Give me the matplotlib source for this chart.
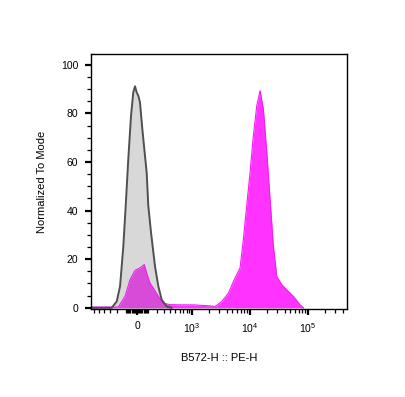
import numpy as np
import matplotlib.pyplot as plt
from matplotlib.ticker import FixedLocator, NullFormatter

plt.rcParams['font.family'] = ['Liberation Sans', 'DejaVu Sans']
plt.rcParams['mathtext.fontset'] = 'custom'
plt.rcParams['mathtext.rm'] = 'Liberation Sans'

# biexponential-like display (asinh)
C = 229.0

def fwd(x):
    return np.arcsinh(np.asarray(x, dtype=float) / C)

def inv(y):
    return C * np.sinh(np.asarray(y, dtype=float))

# unstained control (gray)
gray_x = [-650, -270, -205, -166, -131, -106, -81, -55, -34, -18, -3, 12, 27, 49, 74, 90,
          106, 134, 178, 218, 262, 338, 420]
gray_y = [0, 0, 2.6, 8.8, 25, 42, 61, 79, 88.7, 91.2, 88.7, 87.3, 84.6, 73.5, 62.5, 55.7,
          42, 31, 17, 8.8, 3.3, 0.5, 0]

# stained sample (magenta)
pe_x = [-650, -186, -113, -64, -18, 27, 67, 90, 123, 159, 218, 285, 394, 610, 1045, 2070,
        2525, 3300, 4290, 5590, 6820, 7770, 8880, 10140, 11560, 13240, 15090, 17200, 19680,
        22440, 25580, 29270, 35720, 43500, 56600, 73800, 84000]
pe_y = [0.3, 0.3, 4.7, 11.6, 15.4, 16.4, 17.8, 14.3, 10.2, 8.1, 4.7, 1.9, 1.3, 1.2, 1.2, 0.8,
        0.5, 2.6, 6, 12.3, 16.4, 28, 42, 55.7, 70.8, 83.2, 89.4, 81.8, 64,
        44.6, 25.3, 12.9, 9.5, 7.4, 4.7, 1.2, 0]

x_major = [0, 1e3, 1e4, 1e5]
x_labels = ['0', '10$^{3}$', '10$^{4}$', '10$^{5}$']
y_major = [0, 20, 40, 60, 80, 100]

fig = plt.figure(figsize=(4.06, 3.97), dpi=100)
ax = fig.add_axes([0.2241, 0.2217, 0.6305, 0.6423])
ax.set_xscale('function', functions=(fwd, inv))

ax.fill_between(pe_x, pe_y, 0, color='#ff33ff', lw=0)
ax.plot(pe_x, pe_y, color='#f020f0', lw=0.8)
ax.fill_between(gray_x, gray_y, 0, color='#808080', alpha=0.3, lw=0)
ax.plot(gray_x, gray_y, color='#505050', lw=1.4)

ax.set_xlim(-692, 474000)
ax.set_ylim(-0.5, 104.5)

minor = []
for d in [10, 100]:
    for m in range(1, 10):
        minor += [m * d, -m * d]
for d in [1000, 10000, 100000]:
    for m in range(2, 10):
        if m * d < 474000:
            minor.append(m * d)
ax.xaxis.set_major_locator(FixedLocator(x_major))
ax.set_xticklabels(x_labels)
ax.xaxis.set_minor_locator(FixedLocator(sorted(minor)))
ax.xaxis.set_minor_formatter(NullFormatter())

ax.yaxis.set_major_locator(FixedLocator(y_major))
ax.yaxis.set_minor_locator(FixedLocator(list(range(0, 105, 5))))

ax.tick_params(which='major', direction='out', length=4, width=1.6, labelsize=7.5, color='black', pad=5)
ax.tick_params(which='minor', direction='out', length=3, width=0.9, color='black')
for s in ax.spines.values():
    s.set_linewidth(1.0)

ax.set_xlabel('B572-H :: PE-H', fontsize=8, labelpad=13)
ax.set_ylabel('Normalized To Mode', fontsize=8, labelpad=10)

fig.savefig('out.png', dpi=100)
